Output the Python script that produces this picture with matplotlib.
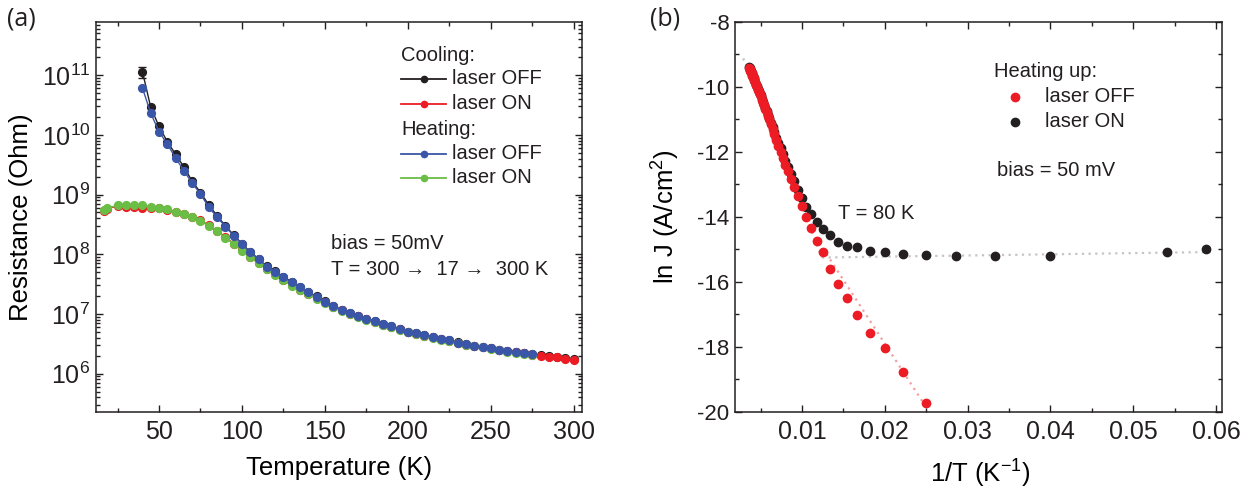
# matplotlib for plotting
import matplotlib
matplotlib.use("Agg")
import matplotlib.pyplot as plt
from matplotlib.ticker import LogLocator, MultipleLocator, NullFormatter
from matplotlib.lines import Line2D

#############################
#### data, panel (a)
#############################

# cooling, laser OFF (black)
T_cool_off = [40, 45, 50, 55, 60, 65, 70, 75, 80, 85,
              90, 95, 100, 105, 110, 115, 120, 125, 130, 135,
              140, 145, 150, 155, 160, 165, 170, 175, 180, 185,
              190, 195, 200, 205, 210, 215, 220, 225, 230, 235,
              240, 245, 250, 255, 260, 265, 270, 275,
              280, 285, 290, 295, 300]
R_cool_off = [1.14e11, 2.9e10, 1.38e10, 7.7e9, 4.7e9, 2.9e9, 1.67e9, 1.08e9, 6.7e8, 4.4e8,
              3.0e8, 2.1e8, 1.5e8, 1.09e8, 8.4e7, 6.3e7, 5.2e7, 4.2e7, 3.45e7, 2.8e7,
              2.32e7, 1.96e7, 1.62e7, 1.37e7, 1.18e7, 1.04e7, 9.4e6, 8.3e6, 7.55e6, 6.75e6,
              6.25e6, 5.65e6, 5.05e6, 4.85e6, 4.45e6, 4.15e6, 3.85e6, 3.6e6, 3.35e6, 3.1e6,
              2.92e6, 2.82e6, 2.7e6, 2.52e6, 2.42e6, 2.32e6, 2.22e6, 2.12e6,
              2.02e6, 1.95e6, 1.88e6, 1.8e6, 1.74e6]
# only the lowest point has a visible error bar
R_cool_off_err = [2.3e10] + [0.0] * 52

# cooling, laser ON (red)
T_cool_on = [17, 18.5,
             25, 30, 35, 40, 45, 50, 55, 60, 65, 70,
             75, 80, 85, 90, 95, 100, 105, 110, 115, 120,
             125, 130, 135, 140, 145, 150, 155, 160, 165, 170,
             175, 180, 185, 190, 195, 200, 205, 210, 215, 220,
             225, 230, 235, 240, 245, 250, 255, 260, 265, 270,
             275, 280, 285, 290, 295, 300]
R_cool_on = [5.4e8, 5.8e8,
             6.4e8, 6.3e8, 6.3e8, 6.0e8, 6.0e8, 5.9e8, 5.6e8, 5.1e8, 4.7e8, 4.2e8,
             3.7e8, 3.05e8, 2.45e8, 1.95e8, 1.5e8, 1.17e8, 9.0e7, 7.1e7, 5.7e7, 4.6e7,
             3.75e7, 3.0e7, 2.5e7, 2.15e7, 1.82e7, 1.56e7, 1.33e7, 1.15e7, 1.01e7, 9.1e6,
             8.1e6, 7.4e6, 6.6e6, 6.1e6, 5.5e6, 4.95e6, 4.7e6, 4.35e6, 4.05e6, 3.75e6,
             3.55e6, 3.25e6, 3.05e6, 2.87e6, 2.77e6, 2.65e6, 2.48e6, 2.38e6, 2.28e6, 2.18e6,
             2.08e6, 2.0e6, 1.93e6, 1.87e6, 1.78e6, 1.72e6]

# heating, laser OFF (blue)
T_heat_off = [40, 45, 50, 55, 60, 65, 70, 75, 80, 85,
              90, 95, 100, 105, 110, 115, 120, 125, 130, 135,
              140, 145, 150, 155, 160, 165, 170, 175, 180, 185,
              190, 195, 200, 205, 210, 215, 220, 225, 230, 235,
              240, 245, 250, 255, 260, 265, 270, 275]
R_heat_off = [6.1e10, 2.3e10, 1.13e10, 7.0e9, 4.1e9, 2.5e9, 1.55e9, 1.02e9, 6.1e8, 4.2e8,
              2.9e8, 2.05e8, 1.48e8, 1.07e8, 8.3e7, 6.2e7, 5.1e7, 4.1e7, 3.4e7, 2.78e7,
              2.3e7, 1.94e7, 1.6e7, 1.36e7, 1.17e7, 1.03e7, 9.3e6, 8.2e6, 7.5e6, 6.7e6,
              6.2e6, 5.6e6, 5.0e6, 4.8e6, 4.4e6, 4.1e6, 3.8e6, 3.6e6, 3.3e6, 3.1e6,
              2.9e6, 2.8e6, 2.7e6, 2.5e6, 2.4e6, 2.3e6, 2.2e6, 2.1e6]

# heating, laser ON (green)
T_heat_on = [17, 18.5,
             25, 30, 35, 40, 45, 50, 55, 60, 65, 70,
             75, 80, 85, 90, 95, 100, 105, 110, 115, 120,
             125, 130, 135, 140, 145, 150, 155, 160, 165, 170,
             175, 180, 185, 190, 195, 200, 205, 210, 215, 220,
             225, 230, 235, 240, 245, 250, 255, 260, 265, 270,
             275]
R_heat_on = [5.5e8, 5.9e8,
             6.6e8, 6.8e8, 6.8e8, 6.6e8, 6.3e8, 5.9e8, 5.7e8, 5.1e8, 4.8e8, 4.2e8,
             3.6e8, 2.96e8, 2.45e8, 1.9e8, 1.48e8, 1.15e8, 8.9e7, 7.0e7, 5.6e7, 4.5e7,
             3.7e7, 2.95e7, 2.5e7, 2.15e7, 1.8e7, 1.55e7, 1.32e7, 1.14e7, 1.0e7, 9.0e6,
             8.0e6, 7.3e6, 6.5e6, 6.0e6, 5.45e6, 4.9e6, 4.65e6, 4.3e6, 4.0e6, 3.7e6,
             3.5e6, 3.2e6, 3.0e6, 2.85e6, 2.75e6, 2.62e6, 2.45e6, 2.35e6, 2.25e6, 2.15e6,
             2.05e6]

#############################
#### data, panel (b)
#############################

# heating up, laser OFF (red)
T_b_off = [40, 45, 50, 55, 60, 65, 70, 75, 80, 85,
           90, 95, 100, 105, 110, 115, 120, 125, 130, 135,
           140, 145, 150, 155, 160, 165, 170, 175, 180, 185,
           190, 195, 200, 205, 210, 215, 220, 225, 230, 235,
           240, 245, 250, 255, 260, 265, 270, 275]
lnJ_b_off = [-19.73, -18.78, -18.04, -17.56, -17.02, -16.51, -16.06, -15.61, -15.09, -14.74,
             -14.35, -13.99, -13.66, -13.35, -13.07, -12.84, -12.60, -12.40, -12.19, -11.99,
             -11.82, -11.63, -11.44, -11.28, -11.13, -11.00, -10.90, -10.77, -10.68, -10.57,
             -10.49, -10.39, -10.28, -10.23, -10.15, -10.08, -10.00, -9.95, -9.86, -9.80,
             -9.73, -9.69, -9.66, -9.58, -9.54, -9.50, -9.45, -9.41]

# heating up, laser ON (black)
T_b_on = [17, 18.5,
          25, 30, 35, 40, 45, 50, 55, 60, 65, 70,
          75, 80, 85, 90, 95, 100, 105, 110, 115, 120,
          125, 130, 135, 140, 145, 150, 155, 160, 165, 170,
          175, 180, 185, 190, 195, 200, 205, 210, 215, 220,
          225, 230, 235, 240, 245, 250, 255, 260, 265, 270,
          275]
lnJ_b_on = [-14.99, -15.07,
            -15.19, -15.19, -15.19, -15.16, -15.13, -15.09, -15.04, -14.93, -14.88, -14.77,
            -14.56, -14.38, -14.16, -13.92, -13.68, -13.43, -13.17, -12.91, -12.69, -12.47,
            -12.28, -12.05, -11.88, -11.73, -11.56, -11.40, -11.24, -11.10, -10.97, -10.87,
            -10.75, -10.66, -10.55, -10.47, -10.37, -10.26, -10.21, -10.13, -10.06, -9.98,
            -9.93, -9.84, -9.78, -9.71, -9.67, -9.64, -9.56, -9.52, -9.48, -9.43,
            -9.39]

# fitted lines (end points)
fit_high_x = [0.0029, 0.0124]
fit_high_y = [-9.12, -15.25]
fit_flat_x = [0.0124, 0.0595]
fit_flat_y = [-15.25, -15.08]
fit_low_x = [0.0112, 0.0251]
fit_low_y = [-14.45, -19.9]

#############################
#### style
#############################

BLACK = "#231f20"
RED = "#ed1c24"
BLUE = "#3a56a8"
GREEN = "#6abd45"
GRAY_FIT = "#c4c4c4"
PINK_FIT = "#f2a0a0"

plt.rcParams["font.family"] = ["Liberation Sans", "DejaVu Sans"]
plt.rcParams["mathtext.fontset"] = "custom"
plt.rcParams["mathtext.rm"] = "Liberation Sans"
plt.rcParams["mathtext.it"] = "Liberation Sans:italic"
plt.rcParams["mathtext.default"] = "regular"
plt.rcParams["axes.unicode_minus"] = False
plt.rcParams["axes.linewidth"] = 1.1
plt.rcParams["text.color"] = BLACK


def style_ticks(ax, labelsize_x, labelsize_y):
    ax.tick_params(which="both", direction="in", top=True, right=True,
                   width=1.0, colors=BLACK)
    ax.tick_params(which="major", length=5)
    ax.tick_params(which="minor", length=2.8)
    ax.tick_params(axis="x", labelsize=labelsize_x, pad=6)
    ax.tick_params(axis="y", labelsize=labelsize_y, pad=4)
    for s in ax.spines.values():
        s.set_color(BLACK)


fig = plt.figure(figsize=(12.4, 4.88), dpi=100)
ax_a = fig.add_axes([0.0774, 0.156, 0.392, 0.799])
ax_b = fig.add_axes([0.5927, 0.156, 0.3927, 0.799])

#############################
#### panel (a)
#############################
ms = 5.6
lw = 1.0
ax_a.errorbar(T_cool_off, R_cool_off, yerr=R_cool_off_err, fmt="-o", color=BLACK,
              ms=ms, lw=lw, capsize=3, elinewidth=1.0, capthick=1.0, zorder=2)
ax_a.plot(T_cool_on, R_cool_on, "-o", color=RED, ms=ms, lw=lw, zorder=3)
ax_a.plot(T_heat_on, R_heat_on, "-o", color=GREEN, ms=ms, lw=lw, zorder=4)
ax_a.plot(T_heat_off, R_heat_off, "-o", color=BLUE, ms=ms, lw=lw, zorder=5)

ax_a.set_yscale("log")
ax_a.set_xlim(12, 305)
ax_a.set_ylim(10 ** 5.36, 10 ** 11.89)
ax_a.set_xticks([50, 100, 150, 200, 250, 300])
ax_a.xaxis.set_minor_locator(MultipleLocator(25))
ax_a.yaxis.set_major_locator(LogLocator(base=10, numticks=20))
ax_a.yaxis.set_minor_locator(LogLocator(base=10, subs=range(2, 10), numticks=20))
ax_a.yaxis.set_minor_formatter(NullFormatter())
style_ticks(ax_a, 18, 18)

ax_a.set_xlabel("Temperature (K)", fontsize=18.5)
ax_a.set_ylabel("Resistance (Ohm)", fontsize=18.5)
ax_a.xaxis.label.set_va("center")
ax_a.yaxis.label.set_va("center")
ax_a.xaxis.set_label_coords(0.5, -0.143)
ax_a.yaxis.set_label_coords(-0.154, 0.5)

# legend drawn by hand so that the headers line up with the line samples
leg_fs = 14.5
rows = [(0.915, "Cooling:", None), (0.854, "laser OFF", BLACK), (0.790, "laser ON", RED),
        (0.723, "Heating:", None), (0.662, "laser OFF", BLUE), (0.600, "laser ON", GREEN)]
for y, label, col in rows:
    if col is None:
        ax_a.text(0.628, y, label, transform=ax_a.transAxes, fontsize=leg_fs,
                  va="center", ha="left")
    else:
        ax_a.add_line(Line2D([0.628, 0.720], [y, y], transform=ax_a.transAxes,
                             color=col, lw=1.3))
        ax_a.add_line(Line2D([0.674], [y], transform=ax_a.transAxes, color=col,
                             marker="o", ms=4.5))
        ax_a.text(0.733, y, label, transform=ax_a.transAxes, fontsize=leg_fs,
                  va="center", ha="left")

ax_a.text(0.4835, 0.433, "bias = 50mV", transform=ax_a.transAxes, fontsize=leg_fs,
          va="center", ha="left")
ax_a.text(0.4835, 0.364, "T = 300 \u2192  17 \u2192  300 K", transform=ax_a.transAxes,
          fontsize=leg_fs, va="center", ha="left")

fig.text(0.006, 0.962, "(a)", fontsize=18, family="Open Sans", va="center", ha="left")

#############################
#### panel (b)
#############################
ax_b.plot(fit_high_x, fit_high_y, color=GRAY_FIT, lw=1.6, ls=(0, (1, 2)))
ax_b.plot(fit_flat_x, fit_flat_y, color=GRAY_FIT, lw=1.6, ls=(0, (1, 2)))
ax_b.plot(fit_low_x, fit_low_y, color=PINK_FIT, lw=1.6, ls=(0, (1, 2)))

inv_T_on = [1.0 / t for t in T_b_on]
inv_T_off = [1.0 / t for t in T_b_off]
ax_b.plot(inv_T_on, lnJ_b_on, "o", color=BLACK, ms=6, lw=0)
ax_b.plot(inv_T_off, lnJ_b_off, "o", color=RED, ms=6, lw=0)

ax_b.set_xlim(0.0019, 0.0607)
ax_b.set_ylim(-20, -8)
ax_b.set_xticks([0.01, 0.02, 0.03, 0.04, 0.05, 0.06])
ax_b.set_xticklabels(["0.01", "0.02", "0.03", "0.04", "0.05", "0.06"])
ax_b.xaxis.set_minor_locator(MultipleLocator(0.005))
ax_b.set_yticks([-8, -10, -12, -14, -16, -18, -20])
ax_b.yaxis.set_minor_locator(MultipleLocator(1))
style_ticks(ax_b, 18, 16)

ax_b.set_xlabel("1/T (K$^{-1}$)", fontsize=18.5)
ax_b.set_ylabel("ln J (A/cm$^{2}$)", fontsize=18.5)
ax_b.xaxis.label.set_va("center")
ax_b.yaxis.label.set_va("center")
ax_b.xaxis.set_label_coords(0.503, -0.158)
ax_b.yaxis.set_label_coords(-0.142, 0.5)

ax_b.text(0.531, 0.872, "Heating up:", transform=ax_b.transAxes, fontsize=leg_fs,
          va="center", ha="left")
ax_b.add_line(Line2D([0.576], [0.808], transform=ax_b.transAxes, color=RED,
                     marker="o", ms=6))
ax_b.text(0.636, 0.808, "laser OFF", transform=ax_b.transAxes, fontsize=leg_fs,
          va="center", ha="left")
ax_b.add_line(Line2D([0.576], [0.744], transform=ax_b.transAxes, color=BLACK,
                     marker="o", ms=6))
ax_b.text(0.636, 0.744, "laser ON", transform=ax_b.transAxes, fontsize=leg_fs,
          va="center", ha="left")
ax_b.text(0.538, 0.618, "bias = 50 mV", transform=ax_b.transAxes, fontsize=leg_fs,
          va="center", ha="left")
ax_b.text(0.211, 0.508, "T = 80 K", transform=ax_b.transAxes, fontsize=leg_fs,
          va="center", ha="left")

fig.text(0.524, 0.962, "(b)", fontsize=18, family="Open Sans", va="center", ha="left")

fig.savefig("out.png", dpi=100)
